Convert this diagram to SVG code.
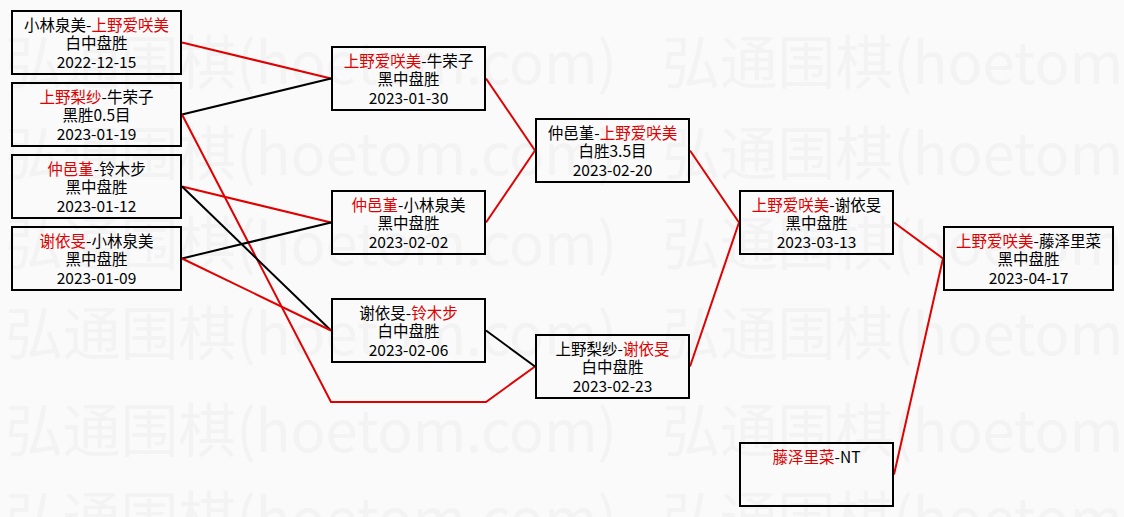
<svg xmlns="http://www.w3.org/2000/svg" width="1124" height="517" viewBox="0 0 1124 517">
<style>
.bg{fill:#fafafa}
.wm{fill:#f3f3f3;font-family:"Noto Sans CJK SC","Noto Sans",sans-serif;font-size:58px}
.box{fill:none;stroke:#000;stroke-width:2}
.t{font-family:"Noto Sans CJK SC","Noto Sans",sans-serif;font-size:15.5px;fill:#000;text-anchor:middle}
.r{fill:#e00000}
.cr{fill:none;stroke:#e00000;stroke-width:2}
.cb{fill:none;stroke:#000;stroke-width:2}
</style>
<rect class="bg" x="0" y="0" width="1124" height="517"/>
<g id="watermark">
<text class="wm" x="5" y="84" textLength="612" lengthAdjust="spacing">弘通围棋(hoetom.com)</text>
<text class="wm" x="662" y="84" textLength="612" lengthAdjust="spacing">弘通围棋(hoetom.com)</text>
<text class="wm" x="5" y="175" textLength="612" lengthAdjust="spacing">弘通围棋(hoetom.com)</text>
<text class="wm" x="662" y="175" textLength="612" lengthAdjust="spacing">弘通围棋(hoetom.com)</text>
<text class="wm" x="5" y="265" textLength="612" lengthAdjust="spacing">弘通围棋(hoetom.com)</text>
<text class="wm" x="662" y="265" textLength="612" lengthAdjust="spacing">弘通围棋(hoetom.com)</text>
<text class="wm" x="5" y="355" textLength="612" lengthAdjust="spacing">弘通围棋(hoetom.com)</text>
<text class="wm" x="662" y="355" textLength="612" lengthAdjust="spacing">弘通围棋(hoetom.com)</text>
<text class="wm" x="5" y="452" textLength="612" lengthAdjust="spacing">弘通围棋(hoetom.com)</text>
<text class="wm" x="662" y="452" textLength="612" lengthAdjust="spacing">弘通围棋(hoetom.com)</text>
<text class="wm" x="5" y="540" textLength="612" lengthAdjust="spacing">弘通围棋(hoetom.com)</text>
<text class="wm" x="662" y="540" textLength="612" lengthAdjust="spacing">弘通围棋(hoetom.com)</text>
</g>
<g id="connectors">
<polyline class="cr" points="182,42.5 331,78.5"/>
<polyline class="cb" points="182,114.5 331,78.5"/>
<polyline class="cr" points="182,114.5 331,402 486,402 535,366.5"/>
<polyline class="cr" points="182,186.5 331,222.5"/>
<polyline class="cb" points="182,186.5 331,330.5"/>
<polyline class="cb" points="182,258.5 331,222.5"/>
<polyline class="cr" points="182,258.5 331,330.5"/>
<polyline class="cr" points="486,78.5 535,150.5"/>
<polyline class="cr" points="486,222.5 535,150.5"/>
<polyline class="cb" points="486,330.5 535,366.5"/>
<polyline class="cr" points="690,150.5 739,222.5"/>
<polyline class="cr" points="690,366.5 739,222.5"/>
<polyline class="cr" points="894,222.5 943,258.5"/>
<polyline class="cr" points="894,474.5 943,258.5"/>
</g>
<g id="n1">
<rect class="box" x="12" y="11" width="169" height="63"/>
<text class="t" x="96.5" y="30.5">小林泉美-<tspan class="r">上野爱咲美</tspan></text>
<text class="t" x="96.5" y="49">白中盘胜</text>
<text class="t" x="96.5" y="67.5">2022-12-15</text>
</g>
<g id="n2">
<rect class="box" x="12" y="83" width="169" height="63"/>
<text class="t" x="96.5" y="102.5"><tspan class="r">上野梨纱</tspan>-牛荣子</text>
<text class="t" x="96.5" y="121">黑胜0.5目</text>
<text class="t" x="96.5" y="139.5">2023-01-19</text>
</g>
<g id="n3">
<rect class="box" x="12" y="155" width="169" height="63"/>
<text class="t" x="96.5" y="174.5"><tspan class="r">仲邑堇</tspan>-铃木步</text>
<text class="t" x="96.5" y="193">黑中盘胜</text>
<text class="t" x="96.5" y="211.5">2023-01-12</text>
</g>
<g id="n4">
<rect class="box" x="12" y="227" width="169" height="63"/>
<text class="t" x="96.5" y="246.5"><tspan class="r">谢依旻</tspan>-小林泉美</text>
<text class="t" x="96.5" y="265">黑中盘胜</text>
<text class="t" x="96.5" y="283.5">2023-01-09</text>
</g>
<g id="nA">
<rect class="box" x="332" y="47" width="153" height="63"/>
<text class="t" x="408.5" y="66.5"><tspan class="r">上野爱咲美</tspan>-牛荣子</text>
<text class="t" x="408.5" y="85">黑中盘胜</text>
<text class="t" x="408.5" y="103.5">2023-01-30</text>
</g>
<g id="nB">
<rect class="box" x="332" y="191" width="153" height="63"/>
<text class="t" x="408.5" y="210.5"><tspan class="r">仲邑堇</tspan>-小林泉美</text>
<text class="t" x="408.5" y="229">黑中盘胜</text>
<text class="t" x="408.5" y="247.5">2023-02-02</text>
</g>
<g id="nC">
<rect class="box" x="332" y="299" width="153" height="63"/>
<text class="t" x="408.5" y="318.5">谢依旻-<tspan class="r">铃木步</tspan></text>
<text class="t" x="408.5" y="337">白中盘胜</text>
<text class="t" x="408.5" y="355.5">2023-02-06</text>
</g>
<g id="nD">
<rect class="box" x="536" y="119" width="153" height="63"/>
<text class="t" x="612.5" y="138.5">仲邑堇-<tspan class="r">上野爱咲美</tspan></text>
<text class="t" x="612.5" y="157">白胜3.5目</text>
<text class="t" x="612.5" y="175.5">2023-02-20</text>
</g>
<g id="nE">
<rect class="box" x="536" y="335" width="153" height="63"/>
<text class="t" x="612.5" y="354.5">上野梨纱-<tspan class="r">谢依旻</tspan></text>
<text class="t" x="612.5" y="373">白中盘胜</text>
<text class="t" x="612.5" y="391.5">2023-02-23</text>
</g>
<g id="nF">
<rect class="box" x="740" y="191" width="153" height="63"/>
<text class="t" x="816.5" y="210.5"><tspan class="r">上野爱咲美</tspan>-谢依旻</text>
<text class="t" x="816.5" y="229">黑中盘胜</text>
<text class="t" x="816.5" y="247.5">2023-03-13</text>
</g>
<g id="nG">
<rect class="box" x="740" y="443" width="153" height="63"/>
<text class="t" x="816.5" y="462.5"><tspan class="r">藤泽里菜</tspan>-NT</text>
</g>
<g id="nH">
<rect class="box" x="944" y="227" width="169" height="63"/>
<text class="t" x="1028.5" y="246.5"><tspan class="r">上野爱咲美</tspan>-藤泽里菜</text>
<text class="t" x="1028.5" y="265">黑中盘胜</text>
<text class="t" x="1028.5" y="283.5">2023-04-17</text>
</g>
</svg>
